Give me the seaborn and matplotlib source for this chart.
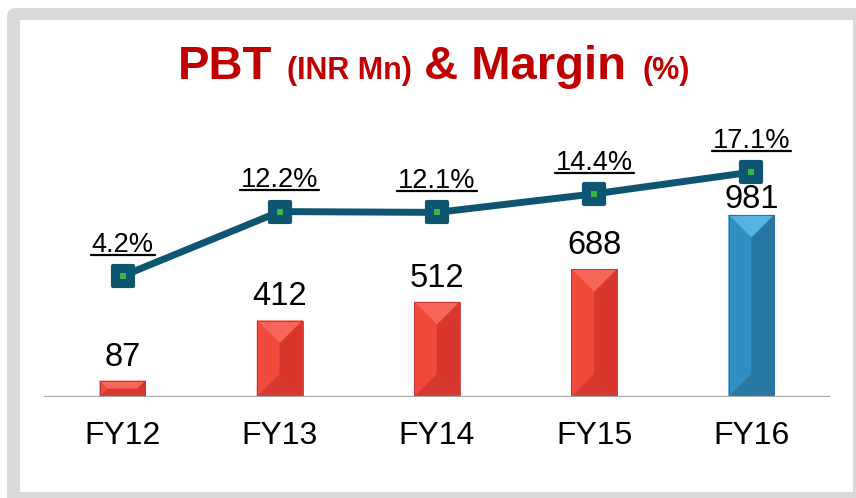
import numpy as np
import matplotlib
matplotlib.use("Agg")
import matplotlib.pyplot as plt
import seaborn as sns
from matplotlib.patches import Polygon, Rectangle, FancyBboxPatch
from matplotlib.lines import Line2D
from matplotlib.markers import MarkerStyle
from matplotlib.transforms import IdentityTransform

# data
years = ["FY12", "FY13", "FY14", "FY15", "FY16"]
pbt = [87, 412, 512, 688, 981]
margin = [4.2, 12.2, 12.1, 14.4, 17.1]
pbt_labels = ["87", "412", "512", "688", "981"]
margin_labels = ["4.2%", "12.2%", "12.1%", "14.4%", "17.1%"]

sns.set_theme(style="white")
plt.rcParams['font.family'] = ['Liberation Sans', 'DejaVu Sans']

W, H = 856, 498
fig = plt.figure(figsize=(W / 100, H / 100), dpi=100)
fig.patch.set_facecolor("white")

# grey rounded frame (pixel coords)
fig.patches.append(FancyBboxPatch((7, -12), 870, 502, boxstyle="round,pad=0,rounding_size=9",
                                  transform=IdentityTransform(), facecolor="#d9d9d9",
                                  edgecolor="none", zorder=-2))
fig.patches.append(Rectangle((20, 6), 833, 472, transform=IdentityTransform(),
                             facecolor="white", edgecolor="none", zorder=-1))

ax = fig.add_axes([44 / W, 1 - 397 / H, 786 / W, 297 / H])
ax.patch.set_alpha(0)
ax.set_zorder(1)

red = "#f0443a"
blue = "#2e8cbf"
sns.barplot(x=years, y=pbt, hue=years, palette=[red] * 4 + [blue], width=0.29,
            saturation=1, legend=False, ax=ax, edgecolor="none")
ax.set_xlim(-0.5, 4.5)
ax.set_ylim(0, 1601)

# bevelled look for the bars
shades = {red: ("#f6665a", "#f2493d", "#d9372d", "#d6392f"),
          blue: ("#55b4e2", "#2f8fc2", "#2578a4", "#2a77a0")}
inv = ax.transData.inverted()
bars = list(ax.patches)
for i, p in enumerate(bars):
    col = red if i < 4 else blue
    top_c, left_c, right_c, bot_c = shades[col]
    (x0, y0), (x1, y1) = ax.transData.transform([(p.get_x(), 0),
                                                  (p.get_x() + p.get_width(), p.get_height())])
    d = min((x1 - x0) / 2, (y1 - y0) / 2)
    faces = [
        ([(x0, y1), (x1, y1), (x1 - d, y1 - d), (x0 + d, y1 - d)], top_c),
        ([(x0, y1), (x0 + d, y1 - d), (x0 + d, y0 + d), (x0, y0)], left_c),
        ([(x1, y1), (x1 - d, y1 - d), (x1 - d, y0 + d), (x1, y0)], right_c),
        ([(x0, y0), (x1, y0), (x1 - d, y0 + d), (x0 + d, y0 + d)], bot_c),
    ]
    for pts, c in faces:
        ax.add_patch(Polygon(inv.transform(pts), closed=True, facecolor=c,
                             edgecolor=c, lw=0.3, zorder=3))
    ax.add_patch(Rectangle((p.get_x(), 0), p.get_width(), p.get_height(), fill=False,
                           edgecolor="#b8322a" if i < 4 else "#1f6a92", lw=0.6, zorder=4))

ax.axhline(0, color="#a6a6a6", lw=1.6, zorder=5)

val_offsets = [11, 11, 11, 11, 5]
for i, v in enumerate(pbt):
    ax.annotate(pbt_labels[i], (i, v), xytext=(0, val_offsets[i]), textcoords="offset points",
                ha="center", va="baseline", fontsize=23.5, color="black", zorder=6)

ax.set_xticks(range(len(years)), years)
ax.tick_params(axis="x", length=0, pad=17, labelsize=23, labelcolor="black")
ax.set_yticks([])
ax.set_xlabel("")
ax.set_ylabel("")
for s in ax.spines.values():
    s.set_visible(False)

# margin line
ax2 = ax.twinx()
ax2.patch.set_alpha(0)
ax2.set_zorder(2)
teal = "#0d5570"
xs = np.arange(len(years))
sns.lineplot(x=xs, y=margin, ax=ax2, color=teal, lw=5,
             marker=MarkerStyle("s", joinstyle="round"), ms=14, mew=3, mec=teal, mfc=teal)
ax2.plot(xs, margin, ls="none", marker="s", ms=4, color="#3cb44a", mew=0)
ax2.set_ylim(-10.83, 26.06)
ax2.set_xlim(-0.5, 4.5)
ax2.set_yticks([])
ax2.set_ylabel("")
for s in ax2.spines.values():
    s.set_visible(False)

renderer = fig.canvas.get_renderer()
for i, m in enumerate(margin):
    t = ax2.annotate(margin_labels[i], (i, m), xytext=(0, 17.5), textcoords="offset points",
                     ha="center", va="baseline", fontsize=19.5, color="black")
    bb = t.get_window_extent(renderer)
    base = ax2.transData.transform((i, m))[1] + 17.5 * 100 / 72
    fig.add_artist(Line2D([bb.x0 - 1, bb.x1 + 1], [base - 3, base - 3], color="black",
                          lw=1.6, transform=IdentityTransform(), zorder=5))

# title made of big and small parts
parts = [("PBT", 34), ("(INR Mn)", 22), ("& Margin", 34), ("(%)", 22)]
gaps = [14, 13, 16, 0]
texts = []
for s, fs in parts:
    texts.append(fig.text(0, 0, s, fontsize=fs, fontweight="bold", color="#c00000",
                          va="baseline", ha="left", transform=IdentityTransform()))
widths = [t.get_window_extent(renderer).width for t in texts]
total = sum(widths) + sum(gaps)
x = 434 - total / 2
for t, w, g in zip(texts, widths, gaps):
    t.set_position((x, H - 79))
    x += w + g

fig.savefig("out.png", dpi=100)
